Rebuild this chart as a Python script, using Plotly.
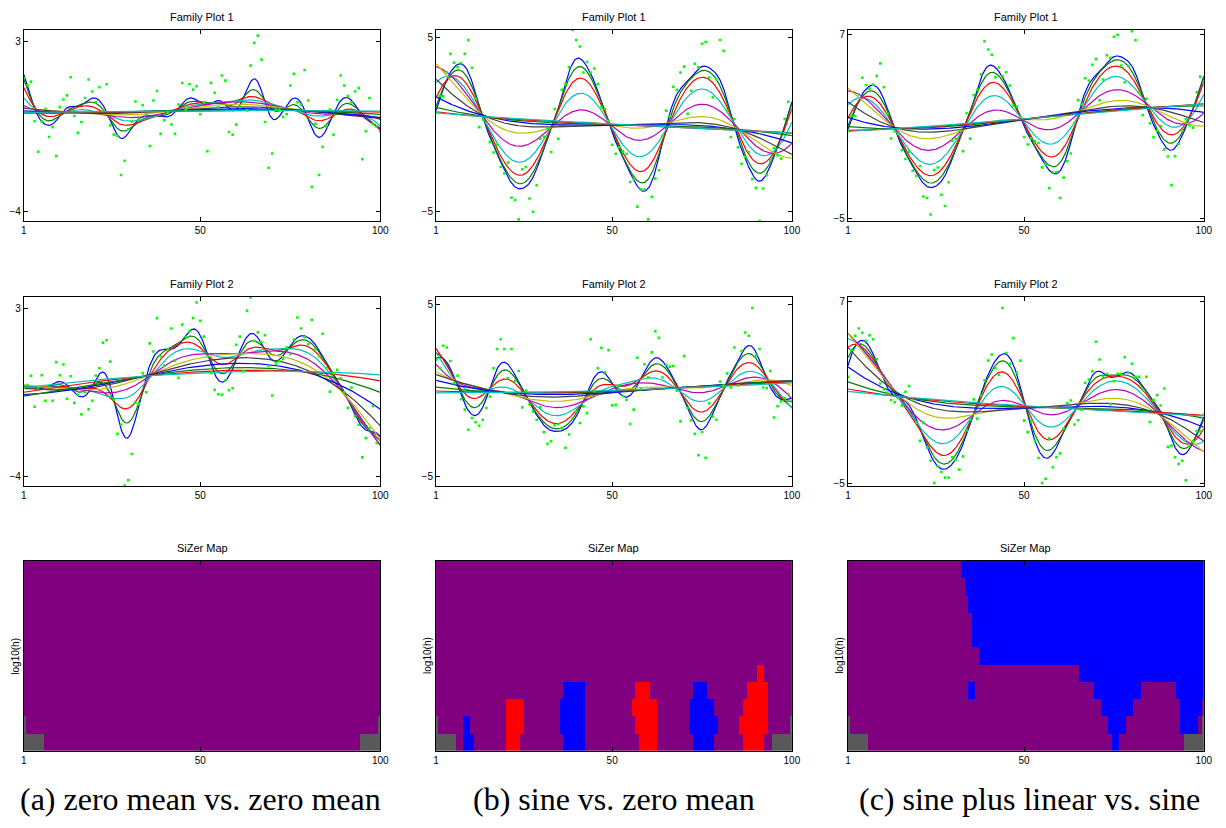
import numpy as np
import plotly.graph_objects as go

# ---------------- data ----------------
x_obs = list(range(1, 101))

a1_y = [1.5, 1.2, 1.35, -0.29, -1.55, -0.3, 0.23, -0.94, -0.53, -1.72,
        0.3, 0.61, 0.78, 1.53, -0.07, -0.77, -0.32, 0.67, 1.44, 0.94,
        0.5, 1.12, 0.2, 1.24, -0.46, -0.84, -0.9, -2.51, -1.92, -0.62,
        -0.3, 0.53, -0.2, 0.37, 0.0, -1.31, 0.57, 0.96, -0.81, -0.25,
        0.1, -0.42, -0.81, 0.4, 1.29, 0.18, 1.24, 1.02, 1.16, 0.0,
        0.5, -1.53, 1.3, 0.89, 0.3, 1.6, 1.39, -0.73, -0.84, -0.43,
        0.3, 0.5, 0.16, 2.01, 2.95, 3.25, 2.26, -0.32, -2.21, -1.62,
        0.2, 0.2, -0.11, 0.0, 1.19, 1.67, 0.5, 0.4, 1.83, 0.57,
        -3.0, -0.39, -2.51, -1.35, -0.5, 0.2, -0.84, 0.6, 1.6, 1.19,
        0.75, 0.5, 0.94, 1.08, -1.86, -0.7, 0.67, -0.4, -0.5, -0.7]

a2_y = [-0.3, -0.2, 0.19, -1.1, -0.3, 0.21, -0.85, -0.3, -0.85, 0.76,
        0.21, 0.66, -0.77, 0.17, -0.94, -0.6, -1.42, -0.5, -1.21, -0.85,
        0.2, 0.5, 1.57, 1.67, 0.78, -0.8, -2.23, -1.85, -4.38, -4.16,
        -3.07, -0.94, -1.0, 0.3, -0.5, 1.54, 1.2, 2.59, 1.0, 0.62,
        1.3, 2.16, 0.82, 0.1, 2.32, 1.8, 2.05, 2.59, 3.24, 2.48,
        1.82, 1.0, 0.3, -0.4, -0.58, -0.6, 0.0, -0.41, -0.33, 1.48,
        1.82, 0.38, 2.9, 3.45, 1.64, 2.0, 1.6, 1.88, 0.6, -0.63,
        0.7, 0.8, 0.9, 1.37, 1.1, 1.7, 2.62, 2.16, 1.8, 1.5,
        2.52, 1.3, 1.0, 1.94, 0.5, -0.47, 0.3, 0.44, 0.08, -0.5,
        -1.15, -0.3, -1.5, -1.85, -3.21, -2.41, -2.0, -1.08, -2.61, -2.5]

b1_y = [0.71, 1.67, 1.63, 3.0, 4.07, 3.57, 3.3, 3.53, 4.07, 4.86,
        3.27, 1.5, -0.14, 0.3, 0.1, -1.0, -1.6, -1.15, -2.43, -2.8,
        -2.18, -4.2, -4.33, -5.44, -2.56, -2.43, -4.24, -5.0, -3.48, -0.81,
        -0.7, -0.2, -1.57, 0.9, -0.81, 2.0, 2.33, 3.3, 5.44, 4.87,
        4.49, 3.0, 3.6, 3.0, 3.23, 2.33, 1.0, 0.9, 0.2, -1.15,
        -1.67, -1.3, -1.53, -1.67, -3.29, -3.1, -4.71, -3.71, -3.71, -5.44,
        -4.14, -3.1, -2.62, -0.66, 0.81, 0.5, 2.18, 2.0, 3.0, 3.34,
        0.62, 1.95, 3.5, 3.3, 4.65, 4.75, 2.71, 1.57, 2.62, 4.87,
        4.24, 0.8, -0.71, 0.33, -1.3, -2.24, -1.86, -1.57, -3.13, -3.63,
        -5.53, -3.67, -2.9, -2.05, -1.34, -1.76, -1.95, 0.33, 1.32, 0.9]

b2_y = [1.8, 1.3, 2.6, 2.5, 1.72, 0.43, 0.87, -0.5, -1.1, -2.26,
        -1.58, -1.83, -2.03, -1.68, -1.0, -0.34, 1.3, 2.41, 2.98, 2.41,
        0.72, 2.41, 0.57, 1.14, -0.97, 0.0, -0.8, -1.2, -1.68, -0.97,
        -2.4, -3.08, -2.93, -2.0, -1.93, -2.16, -3.31, -2.54, -1.6, -1.2,
        -1.87, -0.91, -1.3, 2.98, 0.0, 1.3, 2.48, 1.07, 2.35, -0.85,
        -0.82, 0.3, -0.3, -0.53, -1.93, -1.1, 1.91, 0.1, 1.53, 0.76,
        2.22, 3.44, 3.06, 0.76, 1.5, 1.39, 1.43, 0.0, -1.78, 2.0,
        -1.0, -1.72, -2.5, -3.74, -2.39, -3.89, -0.72, -1.5, -1.68, 0.53,
        0.3, 1.0, 0.18, 2.5, 0.3, 2.29, 3.37, 3.18, 4.79, 2.02,
        2.41, 0.18, 0.14, 1.14, -1.55, -0.9, -0.62, -0.43, -0.2, -0.62]

c1_y = [0.71, 1.70, 1.69, 3.09, 4.19, 3.72, 3.48, 3.74, 4.31, 5.13,
        3.57, 1.83, 0.22, 0.69, 0.52, -0.55, -1.12, -0.64, -1.89, -2.23,
        -1.58, -3.57, -3.67, -4.75, -1.84, -1.68, -3.46, -4.19, -2.64, 0.06,
        0.2, 0.73, -0.61, 1.89, 0.21, 3.05, 3.41, 4.41, 6.58, 6.04,
        5.69, 4.23, 4.86, 4.29, 4.55, 3.68, 2.38, 2.31, 1.64, 0.32,
        -0.17, 0.23, 0.03, -0.08, -1.67, -1.45, -3.03, -2.0, -1.97, -3.67,
        -2.34, -1.27, -0.76, 1.23, 2.73, 2.45, 4.16, 4.01, 5.04, 5.41,
        2.72, 4.08, 5.66, 5.49, 6.87, 7.0, 4.99, 3.88, 4.96, 7.24,
        6.64, 3.23, 1.75, 2.82, 1.22, 0.31, 0.72, 1.04, -0.49, -0.96,
        -2.83, -0.94, -0.14, 0.74, 1.48, 1.09, 0.93, 3.24, 4.26, 3.87]

c2_y = [2.03, 3.8, 4.73, 5.22, 4.94, 4.4, 4.77, 4.51, 3.2, 1.59,
        1.22, 1.0, 0.51, 0.36, 0.62, 0.15, 1.05, 1.42, 0.51, -1.0,
        -2.19, -1.0, -2.62, -3.5, -4.96, -3.88, -4.24, -4.61, -4.61, -3.27,
        -3.45, -4.08, -3.21, -1.5, -0.8, 0.55, -0.72, 0.8, 1.81, 3.1,
        3.5, 2.6, 2.17, 6.57, 3.6, 2.89, 4.58, 2.3, 3.1, -0.85,
        -1.61, -0.89, -2.2, -3.32, -4.96, -4.68, -2.02, -3.92, -3.27, -3.01,
        -1.37, 0.3, 0.47, -1.11, -0.83, -0.14, 1.64, 1.85, 2.4, 4.34,
        3.17, 2.0, 2.24, 0.23, 1.74, 2.24, 2.24, 3.32, 2.3, 2.89,
        2.03, 2.03, 1.2, 2.03, -0.94, 0.5, 0.83, 0.14, 1.26, -2.58,
        -2.5, -3.27, -3.7, -3.5, -4.79, -2.52, -2.2, -1.55, -1.55, -0.46]

# SiZer maps: one list per bandwidth row (smallest h first), runs of (class, first x, last x)
# classes: P = no significant slope, B = increasing, R = decreasing, G = too sparse
sizer_a = [
    [("G", 1, 6), ("P", 7, 94), ("G", 95, 100)],
    [("G", 1, 1), ("P", 2, 99), ("G", 100, 100)],
] + [[("P", 1, 100)]] * 9

sizer_b = [
    [("G", 1, 6), ("P", 7, 8), ("B", 9, 11), ("P", 12, 20), ("R", 21, 24), ("P", 25, 36),
     ("B", 37, 42), ("P", 43, 57), ("R", 58, 62), ("P", 63, 72), ("B", 73, 78),
     ("P", 79, 86), ("R", 87, 92), ("P", 93, 94), ("G", 95, 100)],
    [("G", 1, 1), ("P", 2, 8), ("B", 9, 10), ("P", 11, 20), ("R", 21, 25), ("P", 26, 35),
     ("B", 36, 42), ("P", 43, 56), ("R", 57, 62), ("P", 63, 71), ("B", 72, 79),
     ("P", 80, 85), ("R", 86, 93), ("P", 94, 99), ("G", 100, 100)],
    [("P", 1, 20), ("R", 21, 25), ("P", 26, 35), ("B", 36, 42), ("P", 43, 55), ("R", 56, 62),
     ("P", 63, 71), ("B", 72, 78), ("P", 79, 86), ("R", 87, 93), ("P", 94, 100)],
    [("P", 1, 36), ("B", 37, 42), ("P", 43, 56), ("R", 57, 60), ("P", 61, 72), ("B", 73, 76),
     ("P", 77, 87), ("R", 88, 93), ("P", 94, 100)],
    [("P", 1, 90), ("R", 91, 92), ("P", 93, 100)],
] + [[("P", 1, 100)]] * 6

sizer_c = [
    [("G", 1, 6), ("P", 7, 74), ("B", 75, 76), ("P", 77, 94), ("G", 95, 100)],
    [("G", 1, 1), ("P", 2, 73), ("B", 74, 78), ("P", 79, 93), ("B", 94, 98), ("P", 99, 99), ("G", 100, 100)],
    [("P", 1, 71), ("B", 72, 80), ("P", 81, 93), ("B", 94, 99), ("P", 100, 100)],
    [("P", 1, 34), ("B", 35, 36), ("P", 37, 69), ("B", 70, 82), ("P", 83, 92), ("B", 93, 100)],
    [("P", 1, 65), ("B", 66, 100)],
    [("P", 1, 37), ("B", 38, 100)],
    [("P", 1, 35), ("B", 36, 100)],
    [("P", 1, 35), ("B", 36, 100)],
    [("P", 1, 34), ("B", 35, 100)],
    [("P", 1, 33), ("B", 34, 100)],
    [("P", 1, 32), ("B", 33, 100)],
]

bandwidths = np.geomspace(2.4, 65, 11)
curve_colors = ["#0000FF", "#008000", "#FF0000", "#00BFBF", "#BF00BF", "#BFBF00", "#404040"]
captions = ["(a) zero mean vs. zero mean", "(b) sine vs. zero mean", "(c) sine plus linear vs. sine"]
y_ticks = [[-4, 3], [-5, 5], [-5, 7]]
y_ranges = [[-4.41, 3.49], [-5.53, 5.45], [-5.17, 7.32]]
x_ticks = [1, 50, 100]

# ---------------- helpers ----------------
def loclin(x, y, grid, h):
    X = np.asarray(x, float)
    Y = np.asarray(y, float)
    d = X[None, :] - grid[:, None]
    w = np.exp(-0.5 * (d / h) ** 2)
    s0 = w.sum(1); s1 = (w * d).sum(1); s2 = (w * d * d).sum(1)
    t0 = (w * Y).sum(1); t1 = (w * d * Y).sum(1)
    return (s2 * t0 - s1 * t1) / (s0 * s2 - s1 ** 2)

code = {"P": 0, "B": 1, "R": 2, "G": 3}
def runs_to_matrix(rows):
    z = []
    for r in rows:
        line = [0] * 100
        for c, a, b in r:
            for i in range(a, b + 1):
                line[i - 1] = code[c]
        z.append(line)
    return z

# ---------------- layout geometry ----------------
W, H = 1226, 828
cols_px = [(21, 381), (437.3, 796.7), (853.3, 1212.7)]
rows_px = [(29, 221), (297, 487.5), (562.7, 753.3)]

fig = go.Figure()
sans = "Liberation Sans, Arial, sans-serif"
font_ax = dict(family=sans, size=10, color="black")
grid = np.linspace(1, 100, 397)

family = [[a1_y, a2_y], [b1_y, b2_y], [c1_y, c2_y]]
maps = [sizer_a, sizer_b, sizer_c]
titles = ["Family Plot 1", "Family Plot 2", "SiZer Map"]

ax_n = 0
annotations = []
for ci in range(3):
    x0, x1 = cols_px[ci]
    for ri in range(3):
        ax_n += 1
        y0, y1 = rows_px[ri]
        xa = "xaxis" if ax_n == 1 else f"xaxis{ax_n}"
        ya = "yaxis" if ax_n == 1 else f"yaxis{ax_n}"
        xr = "x" if ax_n == 1 else f"x{ax_n}"
        yr = "y" if ax_n == 1 else f"y{ax_n}"
        common = dict(showline=True, linecolor="black", linewidth=1, mirror="allticks",
                      ticks="inside", ticklen=4, tickcolor="black", showgrid=False,
                      zeroline=False, tickfont=font_ax)
        fig.layout[xa] = dict(domain=[x0 / W, x1 / W], anchor=yr, range=[1, 100],
                              tickvals=x_ticks, ticktext=[str(v) for v in x_ticks], **common)
        if ri < 2:
            data = family[ci][ri]
            for k, h in enumerate(bandwidths):
                fig.add_trace(go.Scatter(x=grid, y=loclin(x_obs, data, grid, h), mode="lines",
                                         line=dict(color=curve_colors[k % 7], width=1.2),
                                         xaxis=xr, yaxis=yr, showlegend=False, hoverinfo="skip"))
            fig.add_trace(go.Scatter(x=x_obs, y=data, mode="markers",
                                     marker=dict(color="#00FF00", size=2.6, symbol="square"),
                                     xaxis=xr, yaxis=yr, showlegend=False, hoverinfo="skip"))
            fig.layout[ya] = dict(domain=[1 - y1 / H, 1 - y0 / H], anchor=xr, range=y_ranges[ci],
                                  tickvals=y_ticks[ci], **common)
        else:
            z = runs_to_matrix(maps[ci])
            fig.add_trace(go.Heatmap(z=z, x=x_obs, y=list(range(1, 12)), zmin=-0.5, zmax=3.5,
                                     colorscale=[[0, "#800080"], [0.25, "#800080"], [0.25, "#0000FF"],
                                                 [0.5, "#0000FF"], [0.5, "#FF0000"], [0.75, "#FF0000"],
                                                 [0.75, "#595959"], [1, "#595959"]],
                                     showscale=False, xaxis=xr, yaxis=yr, hoverinfo="skip"))
            c2 = dict(common); c2["ticks"] = ""
            fig.layout[ya] = dict(domain=[1 - y1 / H, 1 - y0 / H], anchor=xr, range=[0.5, 11.5],
                                  showticklabels=False, **c2)
            annotations.append(dict(text="log10(h)", x=(x0 - 8) / W, y=1 - 658 / H, xref="paper",
                                    yref="paper", showarrow=False, textangle=-90,
                                    xanchor="center", yanchor="middle",
                                    font=dict(family=sans, size=10, color="black")))
        annotations.append(dict(text=titles[ri], x=(x0 + x1) / 2 / W, y=1 - (y0 - 13) / H,
                                xref="paper", yref="paper", showarrow=False,
                                xanchor="center", yanchor="middle",
                                font=dict(family=sans, size=11, color="black")))
    annotations.append(dict(text=captions[ci], x=[199, 617, 1037][ci] / W, y=1 - 802 / H,
                            xref="paper", yref="paper", showarrow=False,
                            xanchor="center", yanchor="middle",
                            font=dict(family="Liberation Serif, Times New Roman, serif", size=32,
                                      color="black")))

fig.update_layout(width=W, height=H, margin=dict(l=0, r=0, t=0, b=0),
                  paper_bgcolor="white", plot_bgcolor="white", annotations=annotations)
fig.write_html("out.html", config={"displayModeBar": False},
               post_script="document.body.style.margin='0px';")
